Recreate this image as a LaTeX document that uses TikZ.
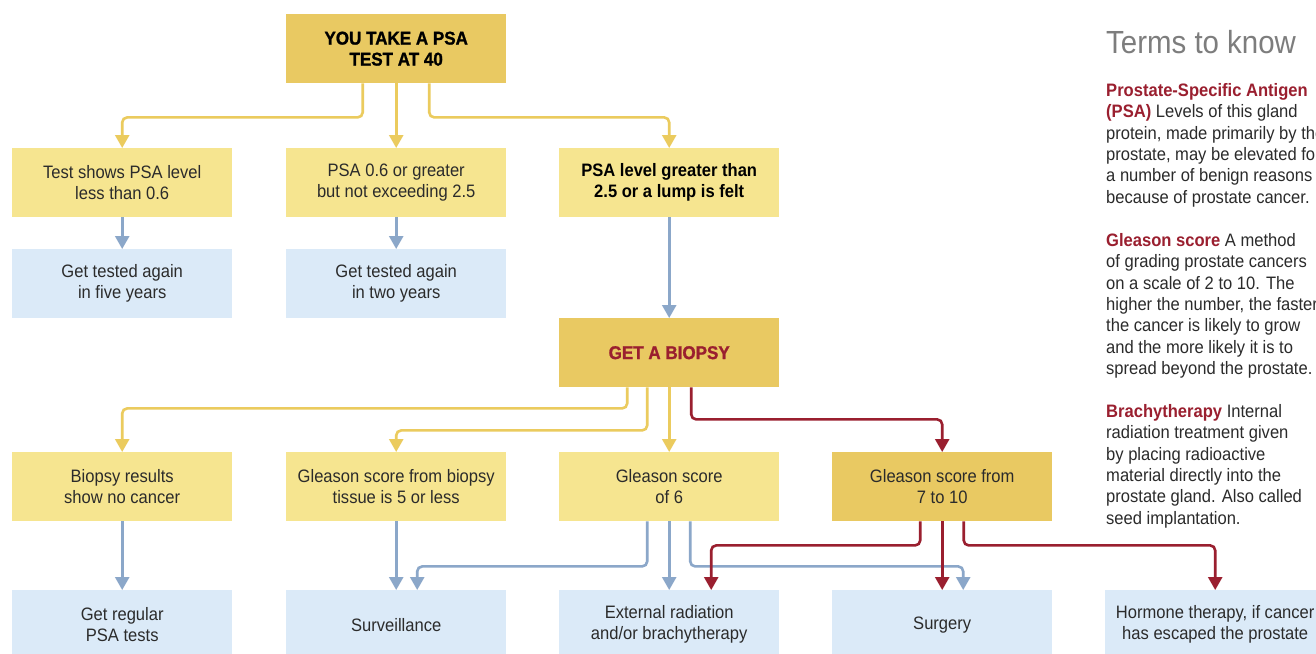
\documentclass[tikz,border=0pt]{standalone}
\usepackage{fontspec}
\setmainfont{Liberation Sans}[FakeStretch=0.92]
\usetikzlibrary{arrows.meta}
\definecolor{dy}{HTML}{E9C962}
\definecolor{ly}{HTML}{F6E590}
\definecolor{lb}{HTML}{DBEAF8}
\definecolor{yl}{HTML}{EBCB5E}
\definecolor{bl}{HTML}{8BA7C9}
\definecolor{rd}{HTML}{9A1F2F}
\definecolor{tx}{HTML}{2B2B2B}
\definecolor{gr}{HTML}{7D7D7D}
\begin{document}
\begin{tikzpicture}[x=1pt,y=-1pt,
 box/.style={anchor=north west, minimum width=220pt, minimum height=69pt, inner sep=0pt, align=center, text=tx, font=\fontsize{18}{21}\selectfont},
 dbox/.style={box, fill=dy},
 ybox/.style={box, fill=ly},
 bbox/.style={box, fill=lb},
 heavy/.style={font=\fontsize{18.5}{21}\selectfont\bfseries\addfontfeature{FakeBold=1.2}},
 conn/.style={line width=2.6pt, rounded corners=5pt, -{Triangle[width=14pt,length=13pt]}},
 yc/.style={conn, draw=yl},
 bc/.style={conn, draw=bl},
 rc/.style={conn, draw=rd},
 terms/.style={anchor=north west, inner sep=0pt, align=left, text=tx, font=\fontsize{18}{21.4}\selectfont},
]
\clip (0,0) rectangle (1316,653);
\fill[white] (0,0) rectangle (1316,653);

% boxes
\node[dbox, heavy, text=black] (top) at (286,14) {YOU TAKE A PSA\\TEST AT 40};
\node[ybox] (b1) at (12,148) {Test shows PSA level\\less than 0.6};
\node[ybox] (b2) at (286,148) {PSA 0.6 or greater\\but not exceeding 2.5};
\node[ybox, font=\fontsize{18}{21}\selectfont\bfseries, text=black] (b3) at (559,148) {PSA level greater than\\2.5 or a lump is felt};
\node[bbox] (c1) at (12,249) {Get tested again\\in five years};
\node[bbox] (c2) at (286,249) {Get tested again\\in two years};
\node[dbox, heavy, text=rd] (bio) at (559,318) {GET A BIOPSY};
\node[ybox] (g1) at (12,452) {Biopsy results\\show no cancer};
\node[ybox] (g2) at (286,452) {Gleason score from biopsy\\tissue is 5 or less};
\node[ybox] (g3) at (559,452) {Gleason score\\of 6};
\node[dbox] (g4) at (832,452) {Gleason score from\\7 to 10};
\node[bbox] (r1) at (12,590) {Get regular\\PSA tests};
\node[bbox] (r2) at (286,590) {Surveillance};
\node[bbox] (r3) at (559,590) {External radiation\\and/or brachytherapy};
\node[bbox] (r4) at (832,590) {Surgery};
\node[bbox] (r5) at (1105,590) {Hormone therapy, if cancer\\has escaped the prostate};

% top connectors
\draw[yc] ([xshift=-33.5pt]top.south) -- ++(0,34) -| (b1.north);
\draw[yc] (top.south) -- (b2.north);
\draw[yc] ([xshift=33pt]top.south) -- ++(0,34) -| (b3.north);
\draw[bc] (b1.south) -- (c1.north);
\draw[bc] (b2.south) -- (c2.north);
\draw[bc] (b3.south) -- (bio.north);

% biopsy connectors
\draw[yc] ([xshift=-42pt]bio.south) -- ++(0,21) -| (g1.north);
\draw[yc] ([xshift=-22pt]bio.south) -- ++(0,43) -| (g2.north);
\draw[yc] (bio.south) -- (g3.north);
\draw[rc] ([xshift=22pt]bio.south) -- ++(0,32) -| (g4.north);

% bottom connectors
\draw[bc] (g1.south) -- (r1.north);
\draw[bc] (g2.south) -- (r2.north);
\draw[bc] ([xshift=-22pt]g3.south) -- ++(0,45) -| ([xshift=21pt]r2.north);
\draw[bc] (g3.south) -- (r3.north);
\draw[bc] ([xshift=21pt]g3.south) -- ++(0,45) -| ([xshift=21pt]r4.north);
\draw[rc] ([xshift=-22pt]g4.south) -- ++(0,24) -| ([xshift=42pt]r3.north);
\draw[rc] (g4.south) -- (r4.north);
\draw[rc] ([xshift=21.5pt]g4.south) -- ++(0,24) -| (r5.north);

% terms
\node[anchor=base west, inner sep=0pt, text=gr, font=\fontsize{32}{36}\selectfont] (title) at (1106,53) {Terms to know};
\node[terms] (t1) at (1106,83) {{\color{rd}\bfseries Prostate-Specific Antigen}\\{\color{rd}\bfseries (PSA)} Levels of this gland\\protein, made primarily by the\\prostate, may be elevated for\\a number of benign reasons or\\because of prostate cancer.};
\node[terms] (t2) at (1106,233) {{\color{rd}\bfseries Gleason score} A method\\of grading prostate cancers\\on a scale of 2 to 10. The\\higher the number, the faster\\the cancer is likely to grow\\and the more likely it is to\\spread beyond the prostate.};
\node[terms] (t3) at (1106,404) {{\color{rd}\bfseries Brachytherapy} Internal\\radiation treatment given\\by placing radioactive\\material directly into the\\prostate gland. Also called\\seed implantation.};
\end{tikzpicture}
\end{document}
